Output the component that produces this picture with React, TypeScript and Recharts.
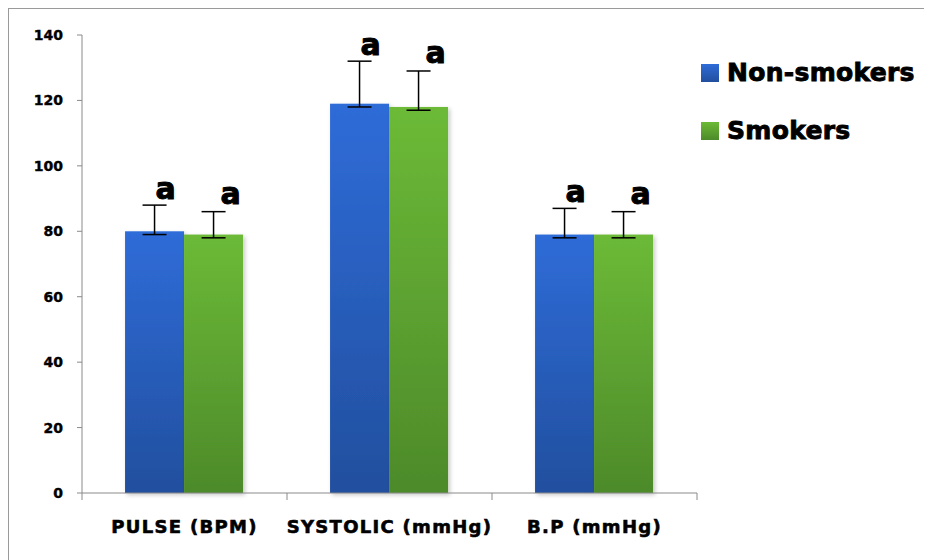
import React from 'react';
import { BarChart, Bar, XAxis, YAxis, ErrorBar, LabelList, Legend } from 'recharts';

const categories = ['PULSE (BPM)', 'SYSTOLIC (mmHg)', 'B.P (mmHg)'];
const nonSmokers = [80, 119, 79];
const smokers = [79, 118, 79];
// error bars as [below, above] the bar top
const nonSmokersErrLow = [1, 1, 1];
const nonSmokersErrHigh = [8, 13, 8];
const smokersErrLow = [1, 1, 1];
const smokersErrHigh = [7, 11, 7];
const nonSmokersLetters = ['a', 'a', 'a'];
const smokersLetters = ['a', 'a', 'a'];
const yTicks = [0, 20, 40, 60, 80, 100, 120, 140];

const seriesNames = ['Non-smokers', 'Smokers'];

const data = categories.map((name, i) => ({
  name,
  ns: nonSmokers[i],
  s: smokers[i],
  nsErr: [nonSmokersErrLow[i], nonSmokersErrHigh[i]],
  sErr: [smokersErrLow[i], smokersErrHigh[i]],
}));

const FONT = '"DejaVu Sans", Arial, sans-serif';

const BLUE_TOP = '#2f6cd8';
const BLUE_BOTTOM = '#214f9e';
const GREEN_TOP = '#6cba37';
const GREEN_BOTTOM = '#4d8a2a';

const CategoryTick = (props: any) => {
  const { x, y, payload } = props;
  const half = payload.offset ?? 0;
  const isLast = payload.value === categories[categories.length - 1];
  return (
    <g>
      <line x1={x - half} y1={y} x2={x - half} y2={y + 7} stroke="#8a8a8a" />
      {isLast && <line x1={x + half} y1={y} x2={x + half} y2={y + 7} stroke="#8a8a8a" />}
      <text
        x={x}
        y={y + 40}
        textAnchor="middle"
        fontFamily={FONT}
        fontWeight="bold"
        fontSize={18}
        letterSpacing={1.3}
        stroke="#000"
        strokeWidth={0.6}
        fill="#000"
      >
        {payload.value}
      </text>
    </g>
  );
};

const makeLetter = (letters: string[], errHigh: number[], dx: number, gap: number) => (props: any) => {
  const { x, y, width, height, value, index } = props;
  const perUnit = height / value;
  const capY = y - errHigh[index] * perUnit;
  return (
    <text
      x={x + width / 2 + dx}
      y={capY - gap}
      textAnchor="middle"
      fontFamily={FONT}
      fontWeight="bold"
      fontSize={30}
      stroke="#000"
      strokeWidth={1}
      fill="#000"
    >
      {letters[index]}
    </text>
  );
};

const BarShape = (p: any) => (
  <rect x={p.x} y={p.y} width={p.width} height={p.height} fill={p.fill} filter="url(#barShadow)" />
);

const renderLegend = () => {
  const grads = [
    `linear-gradient(${BLUE_TOP}, ${BLUE_BOTTOM})`,
    `linear-gradient(${GREEN_TOP}, ${GREEN_BOTTOM})`,
  ];
  return (
    <div>
      {seriesNames.map((n, i) => (
        <div key={n} style={{ display: 'flex', alignItems: 'center', height: 18, marginBottom: 40 }}>
          <div style={{ width: 18, height: 18, background: grads[i], marginRight: 8 }} />
          <span
            style={{
              fontFamily: FONT,
              fontWeight: 'bold',
              fontSize: 25,
              lineHeight: '20px',
              letterSpacing: 0.3,
              WebkitTextStroke: '0.9px #000',
              color: '#000',
              whiteSpace: 'nowrap',
            }}
          >
            {n}
          </span>
        </div>
      ))}
    </div>
  );
};

export default function App() {
  return (
    <div
      style={{
        width: 924,
        height: 552,
        borderTop: '1px solid #9a9a9a',
        borderLeft: '1px solid #9a9a9a',
        boxSizing: 'border-box',
        background: '#fff',
      }}
    >
      <BarChart
        width={923}
        height={551}
        data={data}
        margin={{ top: 26, right: 235, left: 0, bottom: 0 }}
        barCategoryGap="21%"
        barGap={0}
      >
        <defs>
          <linearGradient id="blueGrad" x1="0" y1="0" x2="0" y2="1">
            <stop offset="0%" stopColor={BLUE_TOP} />
            <stop offset="100%" stopColor={BLUE_BOTTOM} />
          </linearGradient>
          <linearGradient id="greenGrad" x1="0" y1="0" x2="0" y2="1">
            <stop offset="0%" stopColor={GREEN_TOP} />
            <stop offset="100%" stopColor={GREEN_BOTTOM} />
          </linearGradient>
          <filter id="barShadow" x="-20%" y="-5%" width="140%" height="115%">
            <feDropShadow dx="2" dy="2" stdDeviation="2" floodColor="#000" floodOpacity="0.22" />
          </filter>
        </defs>
        <XAxis
          dataKey="name"
          height={67}
          axisLine={{ stroke: '#8a8a8a' }}
          tickLine={false}
          tickSize={0}
          tickMargin={0}
          tick={<CategoryTick />}
          interval={0}
        />
        <YAxis
          width={73}
          domain={[0, 140]}
          ticks={yTicks}
          interval={0}
          axisLine={{ stroke: '#8a8a8a' }}
          tickLine={{ stroke: '#8a8a8a' }}
          tickSize={5}
          tickMargin={14}
          tick={{ fontFamily: FONT, fontWeight: 'bold', fontSize: 14, fill: '#000', stroke: '#000', strokeWidth: 0.4 }}
        />
        <Legend
          layout="vertical"
          align="center"
          verticalAlign="middle"
          wrapperStyle={{ left: 692, top: 55, width: 230 }}
          content={renderLegend}
        />
        <Bar dataKey="ns" name={seriesNames[0]} fill="url(#blueGrad)" shape={BarShape} isAnimationActive={false}>
          <ErrorBar dataKey="nsErr" width={12} strokeWidth={1.5} stroke="#000" direction="y" />
          <LabelList dataKey="ns" content={makeLetter(nonSmokersLetters, nonSmokersErrHigh, 11, 6)} />
        </Bar>
        <Bar dataKey="s" name={seriesNames[1]} fill="url(#greenGrad)" shape={BarShape} isAnimationActive={false}>
          <ErrorBar dataKey="sErr" width={12} strokeWidth={1.5} stroke="#000" direction="y" />
          <LabelList dataKey="s" content={makeLetter(smokersLetters, smokersErrHigh, 17, 8)} />
        </Bar>
      </BarChart>
    </div>
  );
}
